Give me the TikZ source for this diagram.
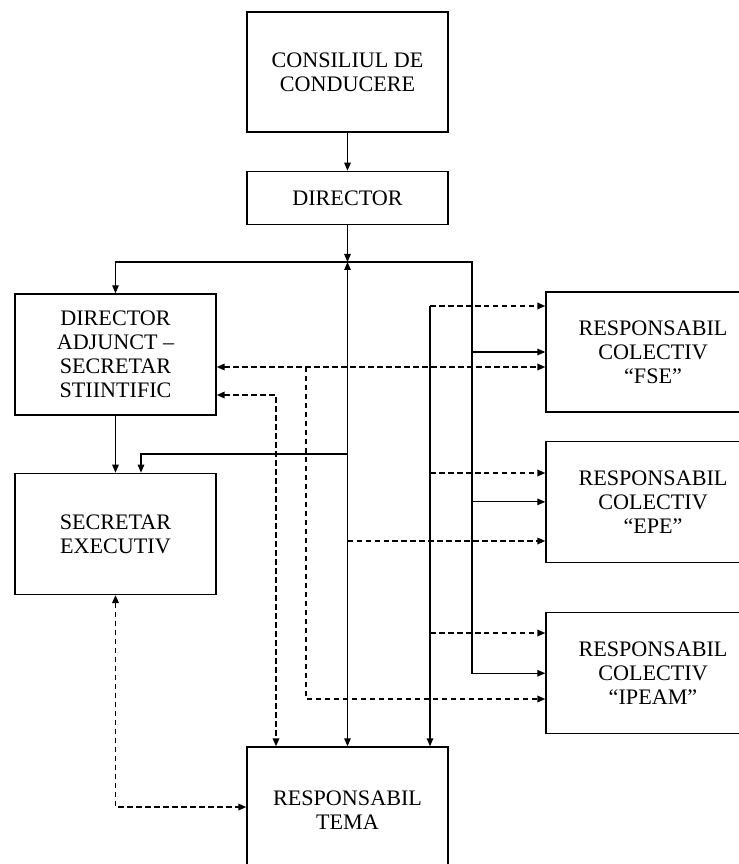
\documentclass[tikz,border=0pt]{standalone}
\usepackage{fontspec}
\setmainfont{Liberation Serif}
\usetikzlibrary{arrows.meta, positioning}

\begin{document}
\begin{tikzpicture}[x=0.02cm, y=-0.02cm,
  >={Triangle[length=1.6mm, width=1.3mm]},
  box/.style={rectangle, draw=black, line width=0.8pt, minimum width=4.02cm, minimum height=2.42cm, text centered, align=center, font=\fontsize{12.6}{13.7}\selectfont},
  colbox/.style={box, minimum width=4.28cm},
  arr/.style={->, line width=0.7pt},
  darr/.style={->, line width=1pt, dash pattern=on 1.1mm off 0.7mm}]

\useasboundingbox (0,0) rectangle (739,864);

% Nodes
\node (cons) [box, minimum height=2.4cm] at (347.5,72) {CONSILIUL DE\\CONDUCERE};

\node (dir) [box, minimum height=1.06cm, below=0.76cm of cons] {DIRECTOR};

\node (da) [box] at (115.5,354.5) {DIRECTOR\\ADJUNCT --\\SECRETAR\\STIINTIFIC};

\node (se) [box, below=1.14cm of da] {SECRETAR\\EXECUTIV};

\node (fse) [colbox, minimum height=2.4cm] at (653,352) {RESPONSABIL\\COLECTIV\\``FSE''};

\node (epe) [colbox, below=0.56cm of fse] {RESPONSABIL\\COLECTIV\\``EPE''};

\node (ipeam) [colbox, below=0.98cm of epe] {RESPONSABIL\\COLECTIV\\``IPEAM''};

\node (tema) [box, minimum height=2.52cm] at (347.5,810) {RESPONSABIL\\TEMA};

% Junctions
\coordinate (jn) at (347.5,262);
\coordinate (rbus) at (472,262);
\coordinate (lbus) at (430,306);
\coordinate (dv) at (306,367);
\coordinate (sebr) at (141,454);

% Arrows
\draw [arr] (cons) -- (dir);
\draw [arr] (dir) -- (jn);
\draw [arr] (jn) -| (da.north);
\draw [arr] (jn) -- (rbus) |- (ipeam.west);
\draw [arr] (rbus |- fse) -- (fse.west);
\draw [arr] (rbus |- epe) -- (epe.west);
\draw [arr, <->] (jn) -- (jn |- tema.north);
\draw [arr] (jn |- sebr) -- (sebr) -- (sebr |- se.north);
\draw [arr] (da) -- (se);
\draw [arr] (lbus) -- (lbus |- tema.north);

\draw [darr] (lbus) -- (fse.west |- lbus);
\draw [darr] (lbus |- 0,473) -- (epe.west |- 0,473);
\draw [darr] (lbus |- 0,633) -- (ipeam.west |- 0,633);
\draw [darr, <->] (da.east |- dv) -- (fse.west |- dv);
\draw [darr] (dv) |- (ipeam.west |- 0,699);
\draw [darr, <->] (da.east |- 0,395) -| (tema.north -| 276,0);
\draw [darr] (jn |- 0,541) -- (epe.west |- 0,541);
\draw [darr, <->] (se.south) |- (tema.west |- 0,807);

\end{tikzpicture}
\end{document}
